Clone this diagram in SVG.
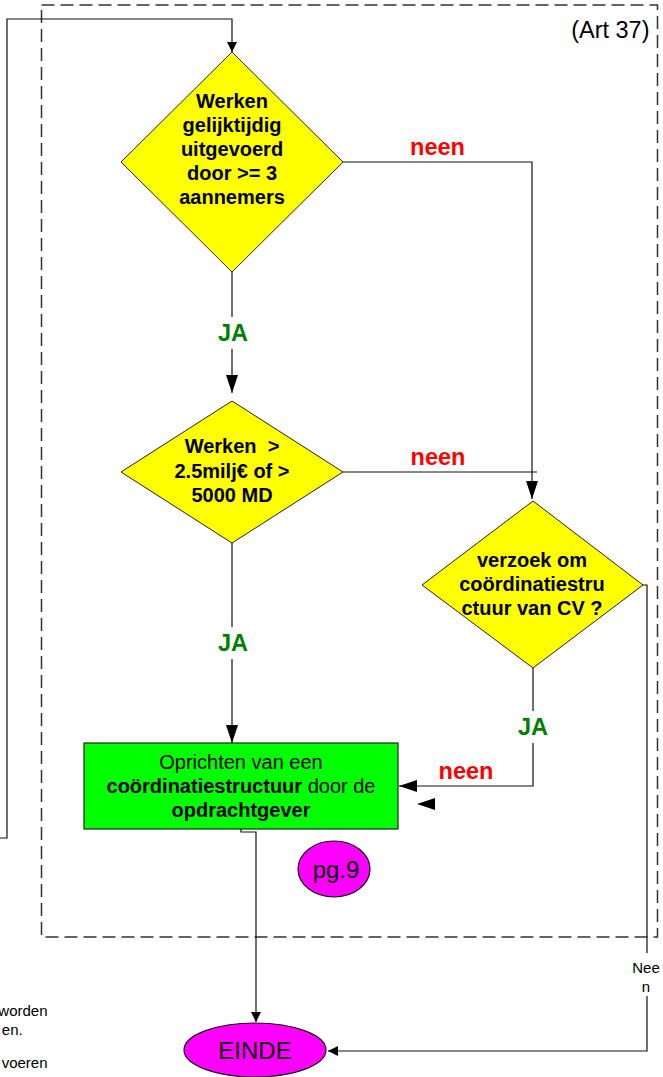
<svg xmlns="http://www.w3.org/2000/svg" width="663" height="1077" viewBox="0 0 663 1077">
<style>
.bg{fill:#ffffff}
.frame{fill:none;stroke:#333333;stroke-width:1.5;stroke-dasharray:13 6}
.dia{fill:#ffff00;stroke:#222222;stroke-width:1}
.box{fill:#00ff00;stroke:#222222;stroke-width:1.2}
.term{fill:#ff00ff;stroke:#111111;stroke-width:1.2}
.line{fill:none;stroke:#111111;stroke-width:1.2}
.t{font-family:"Liberation Sans",Arial,sans-serif;fill:#000000;text-anchor:middle}
.b{font-weight:bold}
.dt{font-size:20px;font-weight:bold}
.neen{font-family:"Liberation Sans",Arial,sans-serif;font-size:23.5px;font-weight:bold;fill:#ff0000;text-anchor:middle}
.ja{font-family:"Liberation Sans",Arial,sans-serif;font-size:23.5px;font-weight:bold;fill:#008000;text-anchor:middle}
.lbg{fill:#ffffff;stroke:none}
.note{font-family:"Liberation Sans",Arial,sans-serif;font-size:15px;fill:#000000;text-anchor:end}
</style>
<defs>
<marker id="arS" viewBox="0 0 10 10" refX="10" refY="5" markerWidth="10" markerHeight="10" markerUnits="userSpaceOnUse" orient="auto">
<path d="M0,0 L10,5 L0,10 z" fill="#000000"/>
</marker>
<marker id="arL" viewBox="0 0 18 12" refX="18" refY="6" markerWidth="18" markerHeight="12" markerUnits="userSpaceOnUse" orient="auto">
<path d="M0,0 L18,6 L0,12 z" fill="#000000"/>
</marker>
</defs>
<rect class="bg" x="0" y="0" width="663" height="1077"/>
<rect id="frame" class="frame" x="41.5" y="5" width="616" height="932"/>
<text class="t" x="649.5" y="38" font-size="23.5" style="text-anchor:end">(Art 37)</text>

<g id="connectors">
<path class="line" d="M0,838 H7 V19 H232 V52" marker-end="url(#arS)"/>
<path class="line" d="M232,272 V393" marker-end="url(#arL)"/>
<path class="line" d="M343,162 H532 V499" marker-end="url(#arL)"/>
<path class="line" d="M343,472 H537"/>
<path class="line" d="M232,543 V743" marker-end="url(#arL)"/>
<path class="line" d="M533,668 V786 H399" marker-end="url(#arL)"/>
<polygon points="417,804 435,798 435,810" fill="#000000"/>
<path class="line" d="M643,585 H647 V1051 H328" marker-end="url(#arS)"/>
<path class="line" d="M241,829 V832 H256 V1022" marker-end="url(#arS)"/>
<rect class="lbg" x="213" y="317" width="40" height="32"/>
<text class="ja" x="233" y="341">JA</text>
<rect class="lbg" x="213" y="627" width="40" height="32"/>
<text class="ja" x="233" y="651">JA</text>
<rect class="lbg" x="513" y="711" width="40" height="32"/>
<text class="ja" x="533" y="735">JA</text>
<text class="neen" x="437.5" y="155">neen</text>
<text class="neen" x="438" y="465">neen</text>
<text class="neen" x="466" y="779">neen</text>
<rect class="lbg" x="632" y="953" width="30" height="43"/>
<text class="t" x="646" y="973" font-size="15">Nee</text>
<text class="t" x="646" y="992" font-size="15">n</text>
</g>

<g id="d1">
<polygon class="dia" points="232,52 343,162 232,272 121,162"/>
<text class="t dt" x="232" y="108.3">Werken</text>
<text class="t dt" x="232" y="132.2">gelijktijdig</text>
<text class="t dt" x="232" y="156.1">uitgevoerd</text>
<text class="t dt" x="232" y="180">door &gt;= 3</text>
<text class="t dt" x="232" y="204">aannemers</text>
</g>

<g id="d2">
<polygon class="dia" points="232,401 343,472 232,543 121,472"/>
<text class="t dt" x="232" y="453.3" xml:space="preserve">Werken  &gt;</text>
<text class="t dt" x="232" y="477.5">2.5milj€ of &gt;</text>
<text class="t dt" x="232" y="501.5">5000 MD</text>
</g>

<g id="d3">
<polygon class="dia" points="533,501 643,585 533,668 422,585"/>
<text class="t dt" x="532" y="567.3">verzoek om</text>
<text class="t dt" x="532" y="591">coördinatiestru</text>
<text class="t dt" x="532" y="614.5">ctuur van CV ?</text>
</g>

<g id="oprichten">
<rect class="box" x="84" y="743" width="314" height="86"/>
<text class="t" x="241" y="769" font-size="20">Oprichten van een</text>
<text class="t" x="241" y="793" font-size="20"><tspan class="b">coördinatiestructuur</tspan> door de</text>
<text class="t b" x="241" y="817" font-size="20">opdrachtgever</text>
</g>

<g id="pg9">
<ellipse class="term" cx="334" cy="869" rx="36" ry="28"/>
<text class="t" x="336" y="877.5" font-size="24">pg.9</text>
</g>

<g id="einde">
<ellipse class="term" cx="255" cy="1050" rx="71" ry="27"/>
<text class="t" x="255" y="1058.5" font-size="24">EINDE</text>
</g>

<g id="notes">
<text class="note" x="47.5" y="1016">worden</text>
<text class="note" x="22.7" y="1034.5">en.</text>
<text class="note" x="47.5" y="1068">voeren</text>
</g>
</svg>
